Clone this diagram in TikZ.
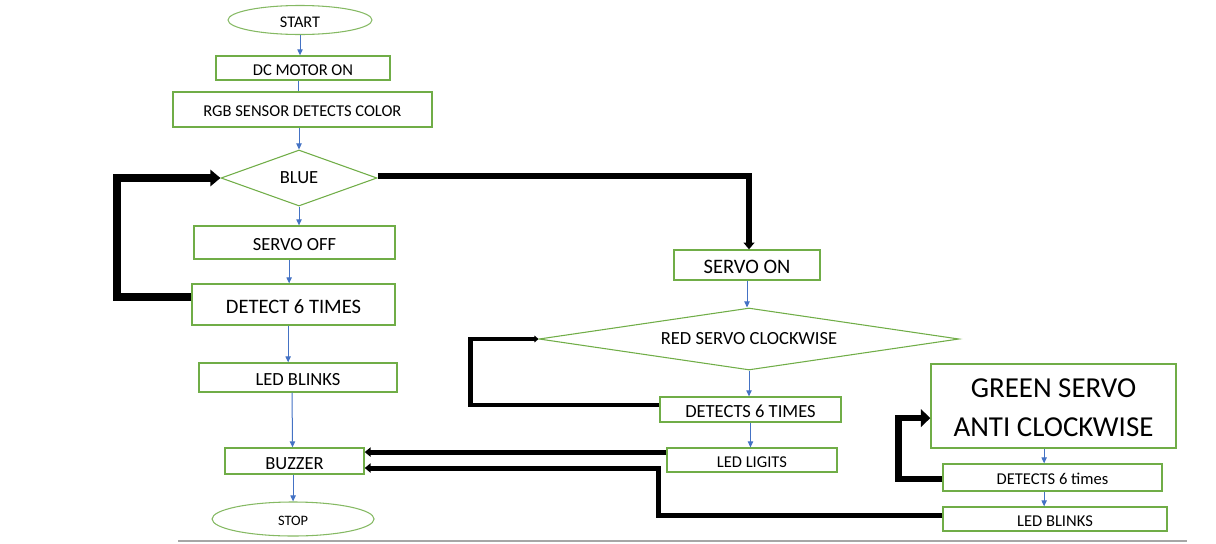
\documentclass[tikz,border=0pt]{standalone}
\usepackage{fontspec}
\setmainfont{Carlito}
\usepackage{xcolor}
\usetikzlibrary{arrows.meta, shapes.geometric}
\definecolor{boxgreen}{HTML}{70AD47}
\definecolor{flowblue}{HTML}{4472C4}

\begin{document}
\begin{tikzpicture}[x=0.75pt, y=-0.75pt, node distance=36pt]
 % We define the styles for the blocks and the arrows
 \tikzset{
block/.style = {draw=boxgreen, rectangle, line width=1pt, inner sep=1pt, text height=11pt, text depth=0pt, font=\fontsize{12.4}{14}\selectfont},
decision/.style = {draw=boxgreen, diamond, line width=0.8pt, inner sep=1pt, font=\fontsize{13.9}{16}\selectfont},
terminal/.style = {draw=boxgreen!85, ellipse, line width=0.8pt, inner sep=1pt, text height=10.5pt, text depth=0pt, font=\fontsize{12.2}{14}\selectfont},
flow/.style = {draw=flowblue, line width=0.75pt, -{Triangle[length=4.5pt, width=4pt]}},
thickline/.style = {draw, black, line join=miter},
medtext/.style = {text height=12.3pt, font=\fontsize{13.9}{16}\selectfont},
bigtext/.style = {text height=13.3pt, font=\fontsize{15.4}{18}\selectfont},
}
 \useasboundingbox (0,0) rectangle (1216,543);

 % Start and the first steps
 \node [terminal, minimum width=108pt, minimum height=21.75pt] (start) at (300,20) {START};
 \node [block, below of=start, node distance=36pt, xshift=2.25pt, minimum width=130.5pt, minimum height=18pt] (motor) {DC MOTOR ON};
 \node [block, below of=motor, node distance=31.1pt, xshift=-0.4pt, minimum width=194.25pt, minimum height=26.25pt] (sensor) {RGB SENSOR DETECTS COLOR};

 % Blue colour branch
 \node [decision, below of=sensor, node distance=51.4pt, xshift=-2.6pt, aspect=2.8, minimum width=117pt, minimum height=42pt] (blue) {BLUE};
 \node [block, medtext, below of=blue, node distance=48.4pt, xshift=-3.4pt, minimum width=150.75pt, minimum height=24.75pt] (servooff) {SERVO OFF};
 \node [block, bigtext, below of=servooff, node distance=46.5pt, xshift=-0.75pt, minimum width=152.25pt, minimum height=30.75pt] (detect) {DETECT 6 TIMES};
 \node [block, medtext, below of=detect, node distance=54.75pt, xshift=3.4pt, minimum width=148.5pt, minimum height=21.75pt] (ledblinks) {LED BLINKS};
 \node [block, medtext, below of=ledblinks, node distance=62.6pt, xshift=-2.6pt, minimum width=104.25pt, minimum height=19.5pt] (buzzer) {BUZZER};
 \node [terminal, below of=buzzer, node distance=43.5pt, xshift=-1.1pt, minimum width=121.5pt, minimum height=25.5pt, text height=9.8pt, font=\fontsize{10.8}{12}\selectfont] (stop) {STOP};

 % Red colour branch
 \node [block, bigtext, right of=blue, node distance=336pt, yshift=-65.25pt, minimum width=109.5pt, minimum height=22.5pt] (servoon) {SERVO ON};
 \node [decision, below of=servoon, node distance=55.5pt, xshift=1.5pt, aspect=6.8, minimum width=315pt, minimum height=46.5pt] (red) {RED SERVO CLOCKWISE};
 \node [block, medtext, below of=red, node distance=52.9pt, xshift=1.1pt, minimum width=135.75pt, minimum height=18.75pt] (detects) {DETECTS 6 TIMES};
 \node [block, below of=detects, node distance=37.9pt, xshift=1.1pt, minimum width=127.5pt, minimum height=18pt] (ledligits) {LED LIGITS};

 % Green colour branch
 \node [block, right of=detects, node distance=227.25pt, yshift=2.6pt, minimum width=183.75pt, minimum height=63pt, align=center, text height=46pt, text depth=0pt, font=\fontsize{21.7}{29.25}\selectfont] (green) {GREEN SERVO\\ANTI CLOCKWISE};
 \node [block, below of=green, node distance=53.6pt, xshift=-0.75pt, minimum width=164.25pt, minimum height=20.25pt] (detectsgreen) {DETECTS 6 times};
 \node [block, below of=detectsgreen, node distance=31.1pt, xshift=1.9pt, minimum width=168pt, minimum height=18pt] (ledgreen) {LED BLINKS};

 % Thin arrows down the steps
 \draw [flow] (start.south) -- (start.south |- motor.north);
 \draw [flow, -] ([xshift=-3.75pt]motor.south) -- ([xshift=-3.75pt]motor.south |- sensor.north);
 \draw [flow] (blue.north |- sensor.south) -- (blue.north);
 \draw [flow] (blue.south) -- (blue.south |- servooff.north);
 \draw [flow] ([xshift=-4pt]servooff.south) -- ([xshift=-4pt]servooff.south |- detect.north);
 \draw [flow] ([xshift=-4pt]detect.south) -- ([xshift=-4pt]detect.south |- ledblinks.north);
 \draw [flow] ([xshift=-4.5pt]ledblinks.south) -- ([xshift=-1.5pt]buzzer.north);
 \draw [flow] (stop.north |- buzzer.south) -- (stop.north);
 \draw [flow] (servoon.south) -- (servoon.south |- red.north);
 \draw [flow] (red.south) -- (red.south |- detects.north);
 \draw [flow] (detects.south) -- (detects.south |- ledligits.north);
 \draw [flow] ([xshift=-7pt]green.south) -- ([xshift=-7pt]green.south |- detectsgreen.north);
 \draw [flow] ([xshift=-7pt]green.south |- detectsgreen.south) -- ([xshift=-7pt]green.south |- ledgreen.north);

 % Thick loops and returns
 \draw [thickline, line width=6pt, -{Triangle[length=7.5pt, width=12pt]}] ([yshift=5.6pt]detect.west) -- ++(-74,0) |- (blue.west);
 \draw [thickline, line width=4.5pt, -{Triangle[length=5pt, width=8pt]}] ([yshift=1.5pt]blue.east) -| ([xshift=1.5pt]servoon.north);
 \draw [thickline, line width=3.5pt, -{Triangle[length=3pt, width=5pt]}] ([yshift=3.4pt]detects.west) -- ++(-189,0) |- (red.west);
 \draw [thickline, line width=5pt, -{Triangle[length=7pt, width=13pt]}] ([yshift=-1pt]detectsgreen.west) -- ++(-44,0) |- ([yshift=-9pt]green.west);
 \draw [thickline, line width=3.75pt, -{Triangle[length=4.5pt, width=7pt]}] ([yshift=6pt]ledligits.west) -- ([yshift=6pt]ledligits.west -| buzzer.east);
 \draw [thickline, line width=3.75pt, -{Triangle[length=4.5pt, width=7pt]}] ([yshift=3pt]ledgreen.west) -- ++(-284,0) |- ([yshift=-5.25pt]buzzer.east);

 % Bottom rule
 \draw [gray!70, line width=1.1pt] (178,541) -- (1187,541);

\end{tikzpicture}
\end{document}
